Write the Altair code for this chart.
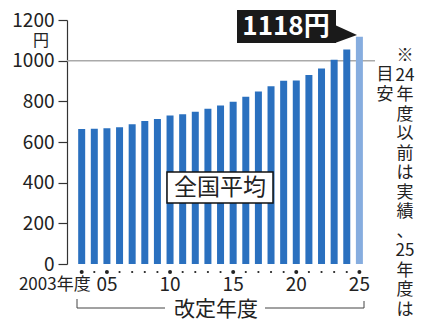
import altair as alt
import pandas as pd

# ---- data ----
years = list(range(2003, 2026))
wages = [664, 665, 668, 673, 687, 703, 713, 730, 737, 749, 764, 780,
         798, 823, 848, 874, 901, 902, 930, 961, 1004, 1055, 1118]
status = ["実績"] * 22 + ["目安"]

y_ticks = [0, 200, 400, 600, 800, 1000, 1200]
x_label_years = [2005, 2010, 2015, 2020, 2025]
x_label_texts = ["05", "10", "15", "20", "25"]
first_label = "2003年度"
major_years = [2003, 2005, 2010, 2015, 2020, 2025]
ref_value = [1000]
callout_text = "1118円"
series_name = "全国平均"
axis_title = "改定年度"
unit_text = "円"
note_right = ["※", "24", "年", "度", "以", "前", "は", "実", "績", "、", "25", "年", "度", "は"]
note_left = ["目", "安"]

# ---- layout ----
W, H = 308, 244
FONT = "Noto Sans CJK JP"
JFONT = "Noto Sans CJK JP"
BLUE = "#2a70bf"
LIGHT = "#86addf"

df = pd.DataFrame({"year": years, "wage": wages, "status": status})
df["major"] = df["year"].isin(major_years)

xscale = alt.Scale(domain=[2002.233, 2025.84], nice=False, zero=False)
yscale = alt.Scale(domain=[0, 1200], nice=False)

one = pd.DataFrame({"a": [0]})


def txt(text, x, y, size=18, font=JFONT, color="#222", weight="normal", align="center",
        baseline="middle", lineHeight=None):
    kw = dict(text=text, font=font, fontSize=size, color=color, fontWeight=weight,
              align=align, baseline=baseline)
    if lineHeight is not None:
        kw["lineHeight"] = lineHeight
    return alt.Chart(one).mark_text(**kw).encode(x=alt.value(x), y=alt.value(y))


ref = alt.Chart(pd.DataFrame({"v": ref_value})).mark_rule(color="#aaaaaa", strokeWidth=1.5).encode(
    y=alt.Y("v:Q", scale=yscale), x=alt.value(0), x2=alt.value(W)
)

bars = alt.Chart(df).mark_bar(size=7).encode(
    x=alt.X("year:Q", scale=xscale, axis=None),
    y=alt.Y("wage:Q", scale=yscale, axis=alt.Axis(
        values=y_ticks, format="d", title=None, grid=False, tickSize=9, labelPadding=4,
        labelFont=FONT, labelFontSize=19, labelColor="#222",
        domainColor="#333", tickColor="#333", domainWidth=1.2, tickWidth=1.2)),
    color=alt.Color("status:N", scale=alt.Scale(domain=["実績", "目安"], range=[BLUE, LIGHT]), legend=None),
)

dots_small = alt.Chart(df).transform_filter("!datum.major").mark_circle(color="#222", opacity=1, size=5).encode(
    x=alt.X("year:Q", scale=xscale), y=alt.value(H + 8)
)
dots_big = alt.Chart(df).transform_filter("datum.major").mark_circle(color="#222", opacity=1, size=16).encode(
    x=alt.X("year:Q", scale=xscale), y=alt.value(H + 8)
)

xlab = alt.Chart(pd.DataFrame({"year": x_label_years, "label": x_label_texts})).mark_text(
    font=FONT, fontSize=19, color="#222", baseline="middle", align="center"
).encode(x=alt.X("year:Q", scale=xscale), y=alt.value(265), text="label:N")

xlab0 = alt.Chart(pd.DataFrame({"year": [years[0]], "label": [first_label]})).mark_text(
    font=FONT, fontSize=17, color="#222", baseline="middle", align="right", dx=9
).encode(x=alt.X("year:Q", scale=xscale), y=alt.value(265), text="label:N")

# bracket under x labels
line_col = "#444"
br = [
    alt.Chart(one).mark_rule(color=line_col, strokeWidth=1).encode(x=alt.value(10), y=alt.value(279), y2=alt.value(288)),
    alt.Chart(one).mark_rule(color=line_col, strokeWidth=1).encode(x=alt.value(10), x2=alt.value(98), y=alt.value(288)),
    alt.Chart(one).mark_rule(color=line_col, strokeWidth=1).encode(x=alt.value(198), x2=alt.value(297), y=alt.value(288)),
    alt.Chart(one).mark_rule(color=line_col, strokeWidth=1).encode(x=alt.value(297), y=alt.value(281), y2=alt.value(288)),
]
xtitle = txt(axis_title, 149, 290, size=21)

# series label box
box = alt.Chart(one).mark_rect(fill="white", stroke="#111", strokeWidth=1.5).encode(
    x=alt.value(100), x2=alt.value(206), y=alt.value(152), y2=alt.value(183)
)
box_txt = txt(series_name, 153, 168, size=23)

# callout
cbox = alt.Chart(one).mark_rect(fill="#1a1a1a").encode(
    x=alt.value(170), x2=alt.value(269), y=alt.value(-10), y2=alt.value(23)
)
ctri = alt.Chart(one).mark_point(shape="M0,-10L22,0L0,8Z", size=4, filled=True, fill="#1a1a1a", opacity=1, strokeWidth=0).encode(
    x=alt.value(268), y=alt.value(15)
)
ctxt = txt(callout_text, 219, 7, size=26, font=FONT, color="white", weight="bold")

unit = txt(unit_text, -26, 21, size=16)

# vertical note (one character per line)
note_r = txt(note_right, 338, 36, size=17, lineHeight=19.5)
note_l = txt(note_left, 318, 55, size=17, lineHeight=19.5)

chart = alt.layer(
    ref, bars, dots_small, dots_big, xlab, xlab0, *br, xtitle, box, box_txt,
    cbox, ctri, ctxt, unit, note_r, note_l
).properties(
    width=W, height=H,
    autosize=alt.AutoSizeParams(type="none"),
    padding={"left": 67, "top": 20, "right": 52, "bottom": 68},
    background="white",
).configure_view(stroke=None)

chart.save("out.html", embed_options={"renderer": "svg", "actions": False})
